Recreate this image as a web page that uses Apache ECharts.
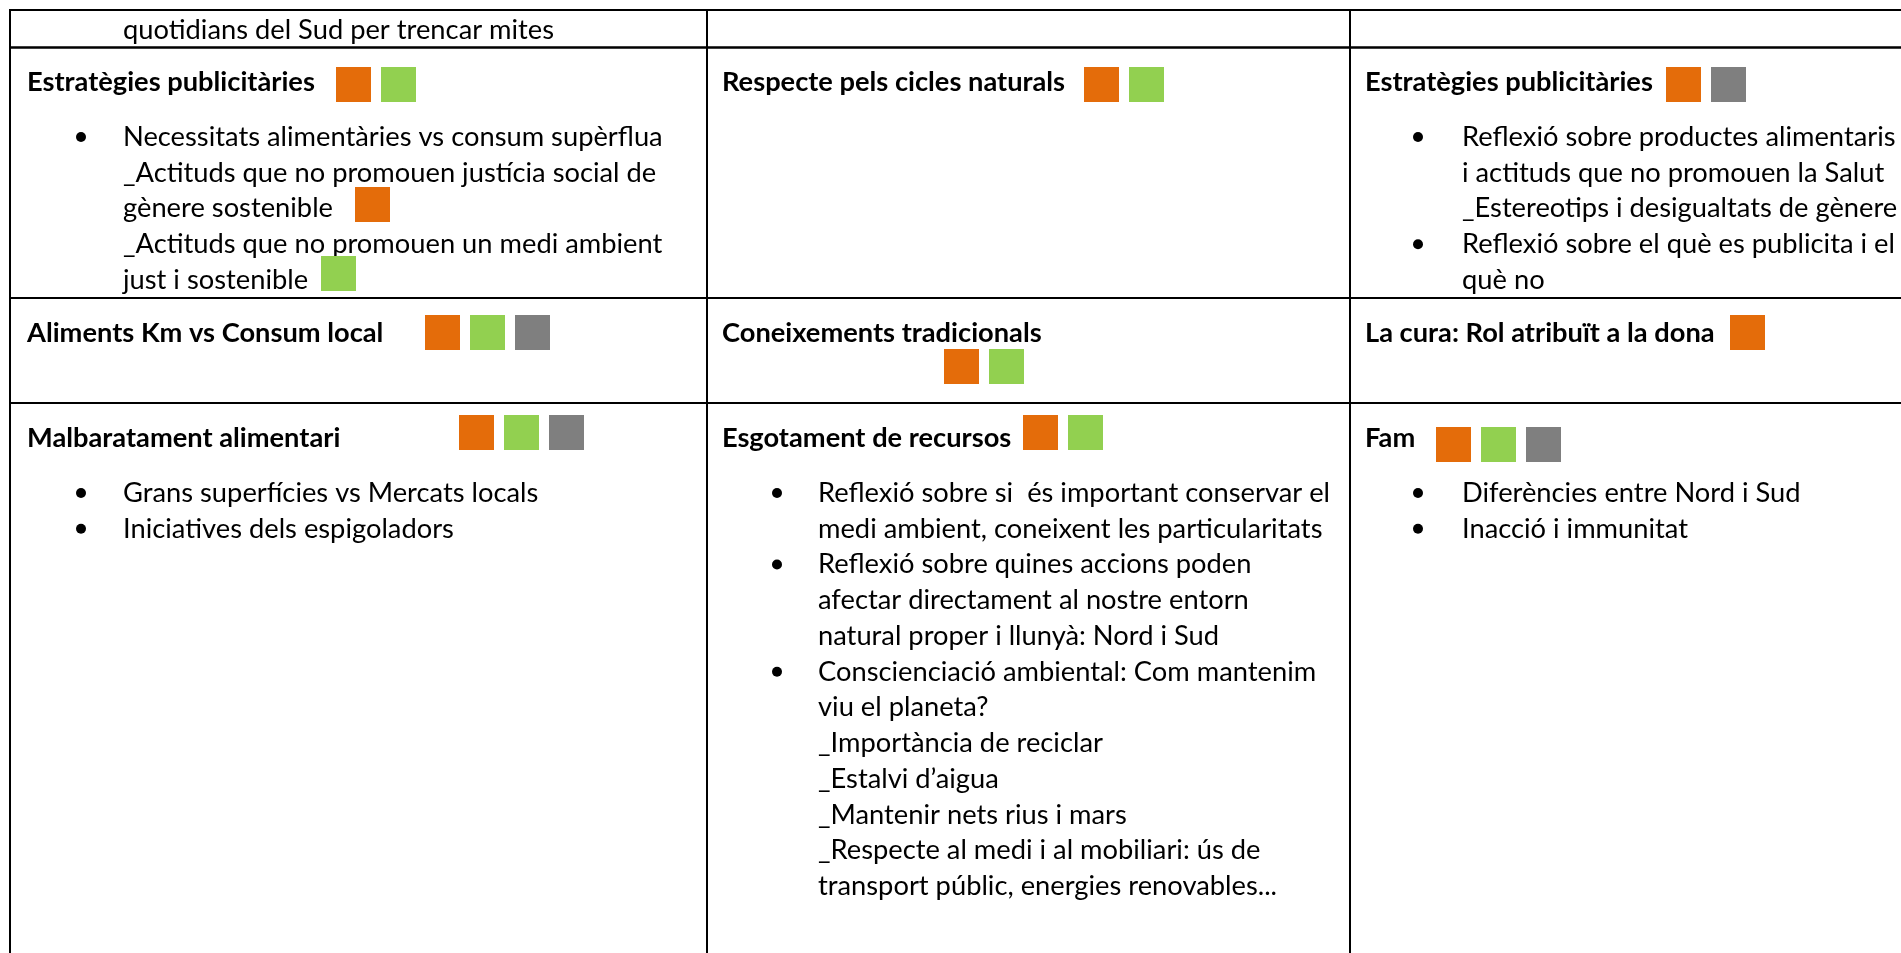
<!DOCTYPE html>
<html><head><meta charset="utf-8">
<script src="https://cdn.jsdelivr.net/npm/echarts@6/dist/echarts.min.js"></script>
<style>html,body{margin:0;padding:0;background:#fff;}#c{width:1901px;height:953px;}</style>
</head><body><div id="c"></div>
<script>
// ---------- DATA ----------
const rowNames = ['r0', 'r1', 'r2', 'r3'];
const colNames = ['c0', 'c1', 'c2'];
const titles = [
  ['', '', ''],
  ['Estratègies publicitàries', 'Respecte pels cicles naturals', 'Estratègies publicitàries'],
  ['Aliments Km vs Consum local', 'Coneixements tradicionals', 'La cura: Rol atribuït a la dona'],
  ['Malbaratament alimentari', 'Esgotament de recursos', 'Fam']
];
// o = orange, g = green, y = grey
const titleTags = [
  [[], [], []],
  [['o', 'g'], ['o', 'g'], ['o', 'y']],
  [['o', 'g', 'y'], ['o', 'g'], ['o']],
  [['o', 'g', 'y'], ['o', 'g'], ['o', 'g', 'y']]
];
// each line: [text, isBullet, inlineTag]
const bodies = [
  [[['quotidians del Sud per trencar mites', 0, '']], [], []],
  [
    [['Necessitats alimentàries vs consum supèrflua', 1, ''],
     ['_Actituds que no promouen justícia social de', 0, ''],
     ['gènere sostenible', 0, 'o'],
     ['_Actituds que no promouen un medi ambient', 0, ''],
     ['just i sostenible', 0, 'g']],
    [],
    [['Reflexió sobre productes alimentaris', 1, ''],
     ['i actituds que no promouen la Salut', 0, ''],
     ['_Estereotips i desigualtats de gènere', 0, ''],
     ['Reflexió sobre el què es publicita i el', 1, ''],
     ['què no', 0, '']]
  ],
  [[], [], []],
  [
    [['Grans superfícies vs Mercats locals', 1, ''],
     ['Iniciatives dels espigoladors', 1, '']],
    [['Reflexió sobre si  és important conservar el', 1, ''],
     ['medi ambient, coneixent les particularitats', 0, ''],
     ['Reflexió sobre quines accions poden', 1, ''],
     ['afectar directament al nostre entorn', 0, ''],
     ['natural proper i llunyà: Nord i Sud', 0, ''],
     ['Conscienciació ambiental: Com mantenim', 1, ''],
     ['viu el planeta?', 0, ''],
     ['_Importància de reciclar', 0, ''],
     ['_Estalvi d’aigua', 0, ''],
     ['_Mantenir nets rius i mars', 0, ''],
     ['_Respecte al medi i al mobiliari: ús de', 0, ''],
     ['transport públic, energies renovables...', 0, '']],
    [['Diferències entre Nord i Sud', 1, ''],
     ['Inacció i immunitat', 1, '']]
  ]
];

// ---------- LAYOUT / STYLE ----------
const tagColors = { o: '#E46C0A', g: '#92D050', y: '#7F7F7F' };
const L = {
  colX: [10, 707, 1350, 2000],
  rowY: [10, 47.5, 298, 403, 1100],
  titleX: [27, 722, 1365],
  titleY: [0, 82, 333, 438],
  textX: [123, 818, 1462],
  bulletX: [81, 777, 1418],
  bodyY: [30, 137, 0, 493],
  pitch: 35.75,
  tagSize: 35,
  tagGap: 45,
  tagPos: [
    [null, null, null],
    [[336, 67], [1084, 67], [1666, 67]],
    [[425, 315], [944, 349], [1730, 315]],
    [[459, 415], [1023, 415], [1436, 427]]
  ],
  inlineTag: { '1,0,2': [355, 187], '1,0,4': [321, 256] }
};
const FONT = 'Lato, "Open Sans", sans-serif';
const mctx = document.createElement('canvas').getContext('2d');
function fitSize(str, weight, target) {
  mctx.font = weight + ' 100px Lato';
  return 100 * target / mctx.measureText(str).width;
}
const regSize = fitSize('Necessitats alimentàries vs consum supèrflua', 'normal', 540);
const boldSize = fitSize('Estratègies publicitàries', 'bold', 288);

const cells = [];
rowNames.forEach((rn, r) => colNames.forEach((cn, c) => cells.push([r, c])));

function txt(pt, text, size, weight) {
  return {
    type: 'text', x: pt[0], y: pt[1], silent: true,
    style: {
      text: text, fill: '#000', fontSize: size, fontFamily: FONT, fontWeight: weight,
      align: 'left', verticalAlign: 'middle', textAlign: 'left', textVerticalAlign: 'middle'
    }
  };
}
function tagRect(pt, color) {
  return { type: 'rect', shape: { x: pt[0], y: pt[1], width: L.tagSize, height: L.tagSize }, style: { fill: color } };
}

const chart = echarts.init(document.getElementById('c'), null, { renderer: 'canvas' });
chart.setOption({
  animation: false,
  backgroundColor: '#fff',
  grid: { left: 0, right: 0, top: 0, bottom: 0 },
  xAxis: { type: 'value', min: 0, max: 1901, show: false },
  yAxis: { type: 'value', min: 0, max: 953, inverse: true, show: false },
  series: [{
    type: 'custom',
    coordinateSystem: 'cartesian2d',
    clip: false,
    data: cells,
    encode: { x: 1, y: 0 },
    renderItem: function (params, api) {
      const r = api.value(0), c = api.value(1);
      const P = (x, y) => api.coord([x, y]);
      const ch = [];
      const tl = P(L.colX[c], L.rowY[r]);
      const br = P(L.colX[c + 1], L.rowY[r + 1]);
      ch.push({
        type: 'rect', shape: { x: tl[0], y: tl[1], width: br[0] - tl[0], height: br[1] - tl[1] },
        style: { fill: 'none', stroke: '#000', lineWidth: 2 }
      });
      if (titles[r][c]) ch.push(txt(P(L.titleX[c], L.titleY[r]), titles[r][c], boldSize, 'bold'));
      const tp = L.tagPos[r][c];
      titleTags[r][c].forEach((t, i) => {
        ch.push(tagRect(P(tp[0] + i * L.tagGap, tp[1]), tagColors[t]));
      });
      bodies[r][c].forEach((ln, i) => {
        const y = L.bodyY[r] + i * L.pitch;
        ch.push(txt(P(L.textX[c], y), ln[0], regSize, 'normal'));
        if (ln[1]) {
          const b = P(L.bulletX[c], y);
          ch.push({ type: 'circle', shape: { cx: b[0], cy: b[1], r: 5 }, style: { fill: '#000' } });
        }
        if (ln[2]) {
          const ip = L.inlineTag[r + ',' + c + ',' + i];
          ch.push(tagRect(P(ip[0], ip[1]), tagColors[ln[2]]));
        }
      });
      return { type: 'group', children: ch };
    }
  }]
});
</script>
</body></html>
